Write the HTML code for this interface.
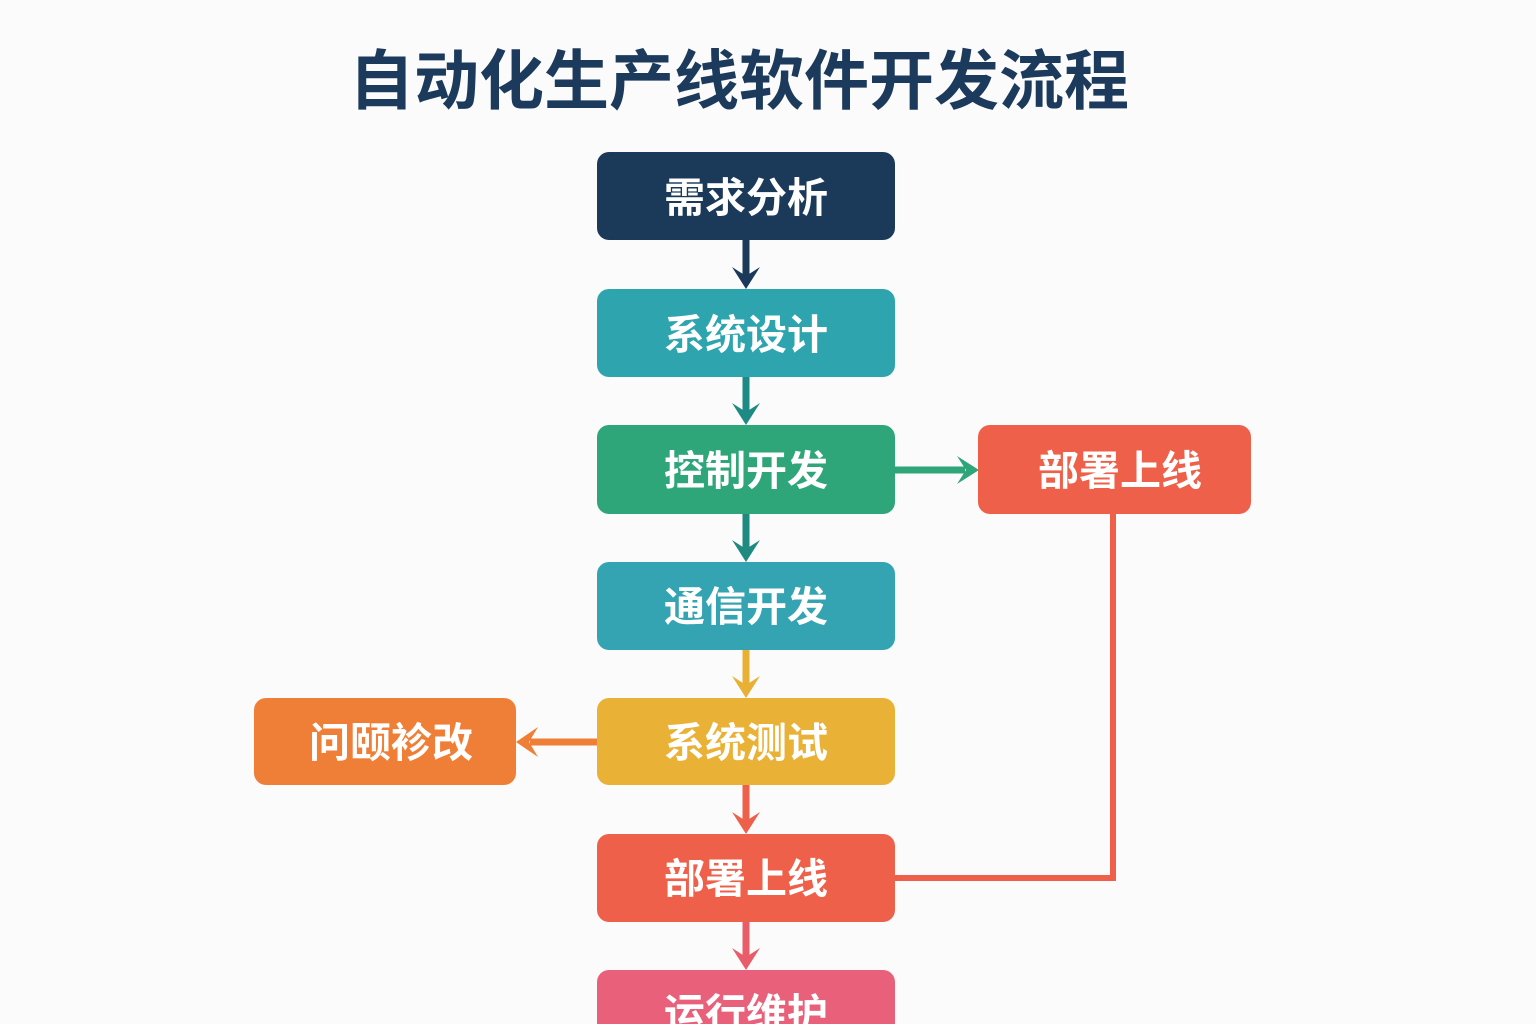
<!DOCTYPE html>
<html><head><meta charset="utf-8"><style>
html,body{margin:0;padding:0;background:#fbfbfb;}
svg{display:block;}
text{font-family:"Liberation Sans","Noto Sans CJK SC",sans-serif;font-weight:700;}
</style></head><body>
<svg width="1536" height="1024" viewBox="0 0 1536 1024" xmlns="http://www.w3.org/2000/svg">
<rect width="1536" height="1024" fill="#fbfbfb"/>
<text x="739" y="81" font-size="65" fill="#1b3a5c" text-anchor="middle" dominant-baseline="central">自动化生产线软件开发流程</text>

<!-- connectors -->
<g stroke-width="7" fill="none">
<line x1="746" y1="240" x2="746" y2="276" stroke="#1b3a5a"/>
<line x1="746" y1="377" x2="746" y2="412" stroke="#1e8a84"/>
<line x1="746" y1="514" x2="746" y2="549" stroke="#1e8a80"/>
<line x1="746" y1="650" x2="746" y2="685" stroke="#e8b135"/>
<line x1="746" y1="785" x2="746" y2="821" stroke="#ee604a"/>
<line x1="746" y1="922" x2="746" y2="957" stroke="#e95d68"/>
<line x1="895" y1="470" x2="965" y2="470" stroke="#2fa57a"/>
<line x1="597" y1="742" x2="530" y2="742" stroke="#ef7f37"/>
<polyline points="1113,514 1113,878 895,878" stroke="#ee604a" stroke-width="6"/>
</g>
<g>
<path d="M732,267 L746,276 L760,267 L746,289 Z" fill="#1b3a5a"/>
<path d="M732,403 L746,412 L760,403 L746,425 Z" fill="#1e8a84"/>
<path d="M732,540 L746,549 L760,540 L746,562 Z" fill="#1e8a80"/>
<path d="M732,676 L746,685 L760,676 L746,698 Z" fill="#e8b135"/>
<path d="M732,812 L746,821 L760,812 L746,834 Z" fill="#ee604a"/>
<path d="M732,948 L746,957 L760,948 L746,970 Z" fill="#e95d6a"/>
<path d="M957,456 L966,470 L957,484 L979,470 Z" fill="#2fa57a"/>
<path d="M538,727 L529,742 L538,757 L516,742 Z" fill="#ef7f37"/>
</g>

<!-- boxes -->
<rect x="597" y="152" width="298" height="88" rx="12" fill="#1b3a5a"/>
<rect x="597" y="289" width="298" height="88" rx="12" fill="#2ea5ae"/>
<rect x="597" y="425" width="298" height="89" rx="12" fill="#2ea67a"/>
<rect x="597" y="562" width="298" height="88" rx="12" fill="#34a4b2"/>
<rect x="597" y="698" width="298" height="87" rx="12" fill="#e9b136"/>
<rect x="597" y="834" width="298" height="88" rx="12" fill="#ee604a"/>
<rect x="597" y="970" width="298" height="88" rx="12" fill="#e9607b"/>
<rect x="978" y="425" width="273" height="89" rx="12" fill="#ee604a"/>
<rect x="254" y="698" width="262" height="87" rx="12" fill="#ef7f37"/>

<g font-size="41" fill="#ffffff" text-anchor="middle" dominant-baseline="central">
<text x="746" y="198">需求分析</text>
<text x="746" y="335">系统设计</text>
<text x="746" y="471">控制开发</text>
<text x="746" y="607">通信开发</text>
<text x="746" y="743">系统测试</text>
<text x="746" y="879">部署上线</text>
<text x="746" y="1014">运行维护</text>
<text x="1120" y="471">部署上线</text>
<text x="391" y="743">问颐袗改</text>
</g>
</svg>
</body></html>
